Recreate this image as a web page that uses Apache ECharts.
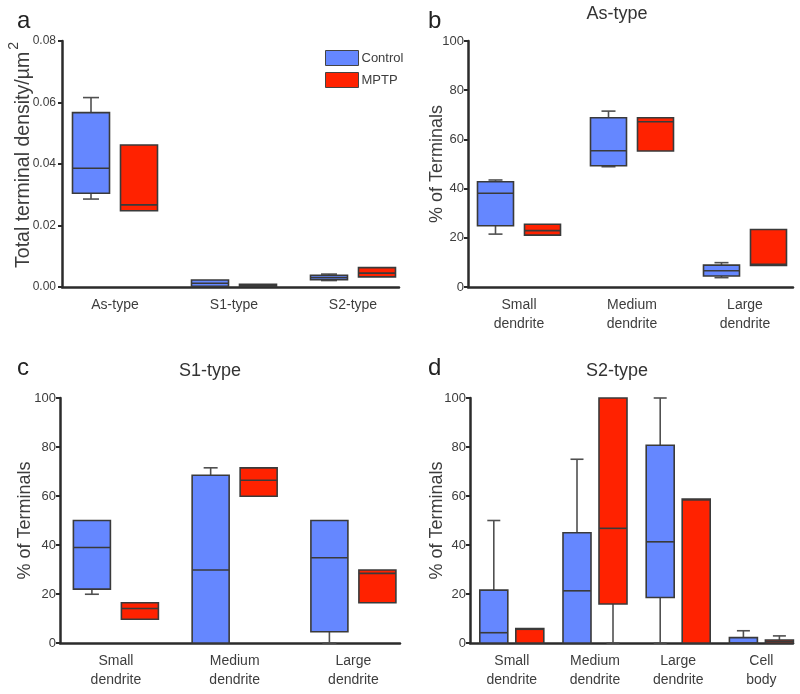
<!DOCTYPE html>
<html><head><meta charset="utf-8">
<script src="https://cdn.jsdelivr.net/npm/echarts@6/dist/echarts.min.js"></script>
<style>html,body{margin:0;padding:0;background:#fff}#c{width:800px;height:694px}</style>
</head><body><div id="c"></div>
<script>
// ---- data: each entry is [min, Q1, median, Q3, max] ----
// Panel a: total terminal density
const catsA = ['As-type', 'S1-type', 'S2-type'];
const ctrlA = [[0.0286, 0.0305, 0.0386, 0.0567, 0.0616], [0.0002, 0.0002, 0.0012, 0.0023, 0.0023], [0.0021, 0.0024, 0.0031, 0.0038, 0.0042]];
const mptpA = [[0.0248, 0.0248, 0.0267, 0.0462, 0.0462], [0.0002, 0.0002, 0.0005, 0.0009, 0.0009], [0.0033, 0.0033, 0.0045, 0.0063, 0.0063]];
// Panel b: As-type
const catsB = ['Small\ndendrite', 'Medium\ndendrite', 'Large\ndendrite'];
const ctrlB = [[21.5, 24.9, 38.1, 42.8, 43.5], [48.9, 49.3, 55.4, 68.8, 71.5], [3.8, 4.5, 6.6, 8.9, 9.9]];
const mptpB = [[21.1, 21.1, 22.9, 25.5, 25.5], [55.3, 55.3, 67.2, 68.8, 68.8], [8.8, 8.8, 9.2, 23.4, 23.4]];
// Panel c: S1-type
const catsC = ['Small\ndendrite', 'Medium\ndendrite', 'Large\ndendrite'];
const ctrlC = [[19.9, 22.0, 39.0, 50.0, 50.0], [0, 0, 29.8, 68.5, 71.5], [0, 4.6, 34.8, 50.0, 50.0]];
const mptpC = [[9.7, 9.7, 14.1, 16.4, 16.4], [59.9, 59.9, 66.4, 71.5, 71.5], [16.4, 16.4, 28.4, 29.8, 29.8]];
// Panel d: S2-type
const catsD = ['Small\ndendrite', 'Medium\ndendrite', 'Large\ndendrite', 'Cell\nbody'];
const ctrlD = [[0, 0, 4.2, 21.6, 50], [0, 0, 21.3, 45.0, 75], [0, 18.6, 41.3, 80.7, 100], [0, 0, 0, 2.2, 5.0]];
const mptpD = [[0, 0, 5.6, 5.9, 5.9], [0, 15.9, 46.8, 100, 100], [0, 0, 58.4, 58.8, 58.8], [0, 0, 0.6, 1.2, 2.9]];
// tick labels
const yTicksA = [0, 0.02, 0.04, 0.06, 0.08];
const yTicksPct = [0, 20, 40, 60, 80, 100];

const BLUE = '#6587ff', RED = '#ff2200', EDGE = '#3a3a3a', WHISK = '#505050', AX = '#2b2b2b', TXT = '#3d3d3d';
const SANS = "'Liberation Sans', Arial, sans-serif";

function boxSeries(name, data, gi, offset, width, cap, color) {
  return {
    type: 'custom', name: name, xAxisIndex: gi, yAxisIndex: gi,
    itemStyle: { color: color, borderColor: EDGE, borderWidth: 1 },
    data: data.map((d, i) => [i].concat(d)),
    encode: { x: 0, y: [1, 2, 3, 4, 5] },
    renderItem: function (params, api) {
      const xi = api.value(0);
      const pts = [1, 2, 3, 4, 5].map(k => api.coord([xi, api.value(k)]));
      const cx = pts[0][0] + offset;
      const yMin = pts[0][1], yQ1 = pts[1][1], yMed = pts[2][1], yQ3 = pts[3][1], yMax = pts[4][1];
      const ls = { stroke: WHISK, lineWidth: 1.6 };
      const ch = [];
      if (yMax < yQ3 - 0.5) {
        ch.push({ type: 'line', shape: { x1: cx, y1: yQ3, x2: cx, y2: yMax }, style: ls });
        ch.push({ type: 'line', shape: { x1: cx - cap / 2, y1: yMax, x2: cx + cap / 2, y2: yMax }, style: ls });
      }
      if (yMin > yQ1 + 0.5) {
        ch.push({ type: 'line', shape: { x1: cx, y1: yQ1, x2: cx, y2: yMin }, style: ls });
        ch.push({ type: 'line', shape: { x1: cx - cap / 2, y1: yMin, x2: cx + cap / 2, y2: yMin }, style: ls });
      }
      ch.push({ type: 'rect', shape: { x: cx - width / 2, y: yQ3, width: width, height: Math.max(yQ1 - yQ3, 0.5) },
        style: { fill: color, stroke: EDGE, lineWidth: 1.6 } });
      ch.push({ type: 'line', shape: { x1: cx - width / 2, y1: yMed, x2: cx + width / 2, y2: yMed }, style: { stroke: EDGE, lineWidth: 1.6 } });
      return { type: 'group', children: ch };
    }
  };
}

function xAx(gi, cats, min, max) {
  return {
    type: 'value', gridIndex: gi, min: min, max: max, position: 'bottom',
    axisLine: { show: true, onZero: false, lineStyle: { color: AX, width: 2.5 } },
    axisTick: { show: false }, splitLine: { show: false },
    axisLabel: { customValues: cats.map((_, i) => i), formatter: v => cats[Math.round(v)] || '',
      color: TXT, fontSize: 14, lineHeight: 19, margin: 9, fontFamily: SANS }
  };
}
function yAx(gi, ticks, fmt, name, nameGap, nameStyle, labelMargin, labelSize) {
  return {
    type: 'value', gridIndex: gi, min: ticks[0], max: ticks[ticks.length - 1], interval: ticks[1] - ticks[0],
    axisLine: { show: true, onZero: false, lineStyle: { color: AX, width: 2.5 } },
    axisTick: { show: true, length: 4, lineStyle: { color: AX, width: 2 } },
    splitLine: { show: false },
    axisLabel: { color: TXT, fontSize: labelSize, margin: labelMargin, fontFamily: SANS, formatter: fmt },
    name: name, nameLocation: 'middle', nameRotate: 90, nameGap: nameGap, nameMoveOverlap: false,
    nameTextStyle: nameStyle
  };
}
const pctName = { color: TXT, fontSize: 18, fontFamily: SANS };

const option = {
  animation: false,
  backgroundColor: '#fff',
  grid: [
    { left: 62, top: 41, width: 337, height: 246 },
    { left: 468, top: 41, width: 325, height: 246 },
    { left: 60, top: 398, width: 340, height: 245 },
    { left: 470, top: 398, width: 323, height: 245 }
  ],
  xAxis: [
    xAx(0, catsA, -0.4454, 2.3866),
    xAx(1, catsB, -0.4513, 2.4248),
    xAx(2, catsC, -0.4707, 2.3924),
    xAx(3, catsD, -0.5024, 3.3798)
  ],
  yAxis: [
    yAx(0, yTicksA, v => v.toFixed(2), '{m|Total terminal density/µm}{s|2}', 28,
      { color: TXT, fontFamily: SANS, padding: [0, 0, 0, 18],
        rich: { m: { fontSize: 19.5, color: TXT, fontFamily: SANS, lineHeight: 23, verticalAlign: 'bottom' },
                s: { fontSize: 14, color: TXT, fontFamily: SANS, lineHeight: 27, verticalAlign: 'top', padding: [0, 0, 0, 2] } } }, 6, 12),
    yAx(1, yTicksPct, v => String(v), '% of Terminals', 22, pctName, 4, 13),
    yAx(2, yTicksPct, v => String(v), '% of Terminals', 25.5, pctName, 4, 13),
    yAx(3, yTicksPct, v => String(v), '% of Terminals', 24, pctName, 4, 13)
  ],
  legend: {
    data: ['Control', 'MPTP'], orient: 'vertical', left: 325, top: 50, padding: 0,
    itemWidth: 33, itemHeight: 15, itemGap: 6, icon: 'rect', selectedMode: false,
    itemStyle: { borderColor: '#444', borderWidth: 1 },
    textStyle: { color: TXT, fontSize: 13, fontFamily: SANS, padding: [0, 0, 0, -2] }
  },
  graphic: [
    { type: 'text', x: 17, y: 21, style: { text: 'a', fontSize: 24, fontFamily: SANS, fill: '#222', align: 'left', verticalAlign: 'middle' } },
    { type: 'text', x: 428, y: 21, style: { text: 'b', fontSize: 24, fontFamily: SANS, fill: '#222', align: 'left', verticalAlign: 'middle' } },
    { type: 'text', x: 17, y: 368, style: { text: 'c', fontSize: 24, fontFamily: SANS, fill: '#222', align: 'left', verticalAlign: 'middle' } },
    { type: 'text', x: 428, y: 368, style: { text: 'd', fontSize: 24, fontFamily: SANS, fill: '#222', align: 'left', verticalAlign: 'middle' } },
    { type: 'text', x: 617, y: 14, style: { text: 'As-type', fontSize: 18, fontFamily: SANS, fill: '#333', align: 'center', verticalAlign: 'middle' } },
    { type: 'text', x: 210, y: 371, style: { text: 'S1-type', fontSize: 18, fontFamily: SANS, fill: '#333', align: 'center', verticalAlign: 'middle' } },
    { type: 'text', x: 617, y: 371, style: { text: 'S2-type', fontSize: 18, fontFamily: SANS, fill: '#333', align: 'center', verticalAlign: 'middle' } }
  ],
  series: [
    boxSeries('Control', ctrlA, 0, -24, 37, 16, BLUE),
    boxSeries('MPTP', mptpA, 0, 24, 37, 16, RED),
    boxSeries('Control', ctrlB, 1, -23.5, 36, 14, BLUE),
    boxSeries('MPTP', mptpB, 1, 23.5, 36, 14, RED),
    boxSeries('Control', ctrlC, 2, -24, 37, 14, BLUE),
    boxSeries('MPTP', mptpC, 2, 24, 37, 14, RED),
    boxSeries('Control', ctrlD, 3, -18, 28, 13, BLUE),
    boxSeries('MPTP', mptpD, 3, 18, 28, 13, RED)
  ]
};
const chart = echarts.init(document.getElementById('c'), null, { renderer: 'canvas' });
chart.setOption(option);
</script>
</body></html>
